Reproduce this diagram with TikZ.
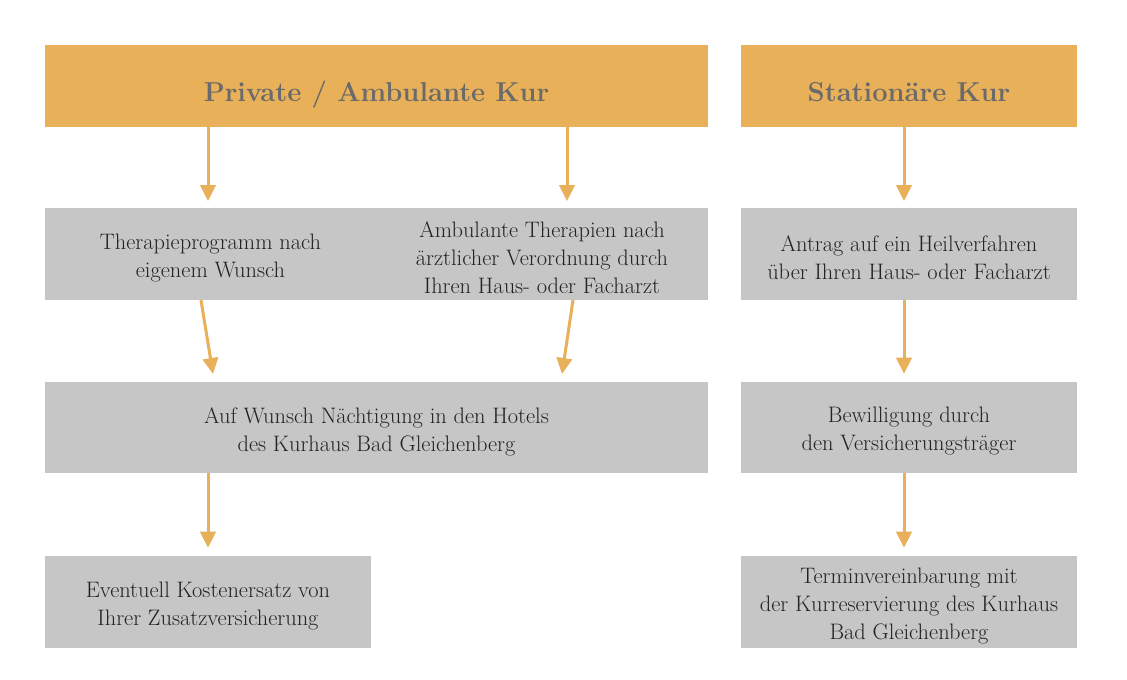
\documentclass[tikz,border=0pt]{standalone}
\usepackage{fontspec}
\usetikzlibrary{arrows.meta}
\definecolor{kurorange}{HTML}{E8B058}
\definecolor{kurgray}{HTML}{C6C6C6}
\definecolor{kurhead}{HTML}{6A6A6A}
\definecolor{kurtext}{HTML}{222222}
\tikzset{
  headbox/.style={fill=kurorange, draw=none, inner sep=0pt, minimum height=61.5pt},
  headtext/.style={text=kurhead, font=\fontsize{20.5}{24}\selectfont\bfseries, inner sep=0pt, anchor=base},
  infobox/.style={fill=kurgray, draw=none, inner sep=0pt, minimum height=69pt},
  infotext/.style={text=kurtext, font=\fontsize{16.8}{21}\selectfont, align=center, inner sep=0pt},
  arr/.style={draw=kurorange, line width=2.25pt,
    -{Triangle[width=11.5pt,length=12pt]}}
}
\begin{document}
\begin{tikzpicture}[x=0.75pt,y=-0.75pt]
\useasboundingbox[fill=white] (0,0) rectangle (1127,680);
% headers
\node[headbox, minimum width=497.25pt] (h1) at (376.5,86) {};
\node[headbox, minimum width=252pt] (h2) at (909,86) {};
\node[headtext] (h1t) at ([yshift=-12pt]h1.center) {Private / Ambulante Kur};
\node[headtext] (h2t) at ([yshift=-12pt]h2.center) {Stationäre Kur};
% row 2
\node[infobox, minimum width=249pt] (r2a) at (210.5,254) {};
\node[infobox, minimum width=249pt] (r2b) at (542,254) {};
\node[infobox, minimum width=252pt] (r2c) at (909,254) {};
% row 3
\node[infobox, minimum width=497.25pt, minimum height=68.25pt] (r3a) at (376.5,427.5) {};
\node[infobox, minimum width=252pt, minimum height=68.25pt] (r3b) at (909,427.5) {};
% row 4
\node[infobox, minimum width=244.5pt] (r4a) at (208,602) {};
\node[infobox, minimum width=252pt] (r4b) at (909,602) {};
% texts
\node[infotext] (r2at) at ([yshift=-3pt]r2a.center) {Therapieprogramm nach\\eigenem Wunsch};
\node[infotext] (r2bt) at ([yshift=-3pt]r2b.center) {Ambulante Therapien nach\\ärztlicher Verordnung durch\\Ihren Haus- oder Facharzt};
\node[infotext] (r2ct) at ([yshift=-3pt]r2c.center) {Antrag auf ein Heilverfahren\\über Ihren Haus- oder Facharzt};
\node[infotext] (r3at) at ([yshift=-3pt]r3a.center) {Auf Wunsch Nächtigung in den Hotels\\des Kurhaus Bad Gleichenberg};
\node[infotext] (r3bt) at ([yshift=-3pt]r3b.center) {Bewilligung durch\\den Versicherungsträger};
\node[infotext] (r4at) at ([yshift=-3pt]r4a.center) {Eventuell Kostenersatz von\\Ihrer Zusatzversicherung};
\node[infotext] (r4bt) at ([yshift=-3pt]r4b.center) {Terminvereinbarung mit\\der Kurreservierung des Kurhaus\\Bad Gleichenberg};
% connector anchors
\coordinate (a1) at (208,0);
\coordinate (a2) at (567,0);
\coordinate (a3) at (904,0);
\coordinate (d1s) at (201,300);
\coordinate (d1e) at (213,374);
\coordinate (d2s) at (573,300);
\coordinate (d2e) at (562,374);
% arrows
\draw[arr, shorten >=5] (h1.south -| a1) -- (r2a.north -| a1);
\draw[arr, shorten >=5] (h1.south -| a2) -- (r2b.north -| a2);
\draw[arr, shorten >=5] (h2.south -| a3) -- (r2c.north -| a3);
\draw[arr] (d1s) -- (d1e);
\draw[arr] (d2s) -- (d2e);
\draw[arr, shorten >=6] (r2c.south -| a3) -- (r3b.north -| a3);
\draw[arr, shorten >=6] (r3a.south -| a1) -- (r4a.north -| a1);
\draw[arr, shorten >=6] (r3b.south -| a3) -- (r4b.north -| a3);
\end{tikzpicture}
\end{document}
